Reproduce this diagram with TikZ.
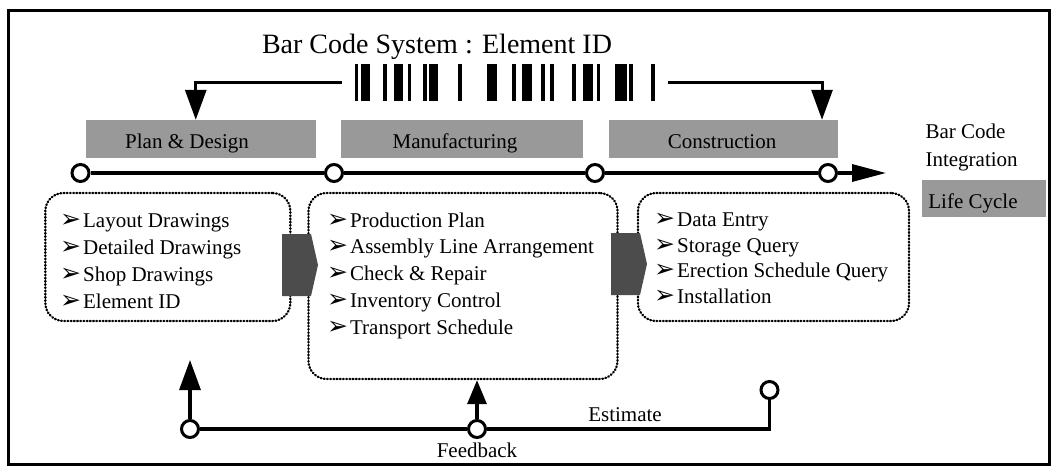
\documentclass[tikz,border=0pt]{standalone}
\usepackage{fontspec}
\setmainfont{Liberation Serif}
\newfontfamily\symfont{DejaVu Sans}
\usetikzlibrary{arrows.meta}

\newcommand\itembul{{\symfont\fontsize{25}{25}\selectfont ➢}\hspace{2pt}}

\tikzset{
  frame/.style  = {line width=3pt},
  line/.style   = {line width=3.2pt},
  flow/.style   = {line width=3pt, ->},
  stop/.style   = {circle, draw, fill=white, line width=3pt,
                   minimum size=17pt, inner sep=0pt},
  phase/.style  = {fill=black!40, minimum height=38pt, inner sep=0pt},
  stage/.style  = {draw, rounded corners=18pt, line width=2.3pt,
                   dash pattern=on 0.8pt off 2.4pt, line cap=round, inner sep=0pt},
  entry/.style  = {anchor=base west, inner sep=0pt},
  handoff/.style= {fill=black!70}
}

\begin{document}
\begin{tikzpicture}[x=1pt, y=-1pt, font=\fontsize{21}{25}\selectfont,
                    >={Triangle[length=30pt,width=21pt]}]
\useasboundingbox (0,0) rectangle (1057,476);
\draw[frame] (8,10.5) rectangle (1049,464);

\node[anchor=base, font=\fontsize{28}{32}\selectfont] (title) at (437,53.5)
  {Bar Code System : Element ID};

% bar code
\foreach \bx/\bw in {355/3,361/9,383/4,394/9,408/3,423/4,429/9,458/4,487/10,
                     512/4,522/10,541/4,550/4,572/4,583/10,597/3,615/12,629/4,651/4}
  \fill (\bx,64.5) rectangle ++(\bw,37);
\node[minimum width=326pt, minimum height=37pt, inner sep=0pt] (barcode) at (505,83) {};

% phases
\node[phase, minimum width=229.5pt] (design) at (200.75,139) {};
\node[phase, minimum width=242pt]   (make)   at (461.5,139)  {};
\node[phase, minimum width=229pt]   (build)  at (723,139)    {};
\node[phase, minimum width=124pt, minimum height=37pt] (life) at (984,198.5) {};
\node[anchor=base] (designlbl) at (187,148.5) {Plan \& Design};
\node[anchor=base] (makelbl)   at (455,148.5) {Manufacturing};
\node[anchor=base] (buildlbl)  at (722,148.5) {Construction};
\node[anchor=base] (lifelbl)   at (973,208)   {Life Cycle};
\node[anchor=base west] (bclbl)  at (922,139)   {Bar Code};
\node[anchor=base west] (intlbl) at (922,166.5) {Integration};

\draw[flow] (barcode.west) -| ([xshift=-5pt]design.north);
\draw[flow] (barcode.east) -| ([xshift=99pt]build.north);

% time line
\node[stop] (t1) at (80.5,173) {};
\node[stop] (t2) at (334,173)  {};
\node[stop] (t3) at (595,173)  {};
\node[stop] (t4) at (828,173)  {};
\coordinate (tend) at (886,173);
\draw[line] (t1) -- (t2) -- (t3) -- (t4);
\draw[line, -{Triangle[length=34pt,width=17pt]}] (t4) -- (tend);

% stage boxes
\node[stage, minimum width=245pt, minimum height=128pt] (designbox) at (167.85,257) {};
\node[stage, minimum width=309pt, minimum height=186pt] (makebox)   at (463,286)    {};
\node[stage, minimum width=271pt, minimum height=128pt] (buildbox)  at (773.5,257)  {};

\foreach \txt [count=\i] in {Layout Drawings, Detailed Drawings, Shop Drawings, Element ID}
  \node[entry] (design-\i) at (60,227+27*\i-27) {\itembul\txt};
\foreach \txt [count=\i] in {Production Plan, Assembly Line Arrangement, Check \& Repair,
                             Inventory Control, Transport Schedule}
  \node[entry] (make-\i) at (327,227+26.8*\i-26.8) {\itembul\txt};
\foreach \txt [count=\i] in {Data Entry, Storage Query, Erection Schedule Query, Installation}
  \node[entry] (build-\i) at (654,226.5+25.5*\i-25.5) {\itembul\txt};

\foreach \ax/\ay in {282/234, 611/233}
  \fill[handoff] (\ax,\ay) -- ++(29,0) -- ++(7,31) -- ++(-7,31) -- ++(-29,0) -- cycle;

% feedback loop
\node[stop] (fb1) at (190,429)   {};
\node[stop] (fb2) at (477,429)   {};
\node[stop] (fb3) at (769.5,390) {};
\coordinate (fbtip) at (190,360);
\draw[line] (fb1) -- (fb2) -- (fb3 |- fb2) -- (fb3);
\draw[line, ->] (fb1) -- (fbtip);
\draw[line, -{Triangle[length=24pt,width=19pt]}] (fb2) -- (fb2 |- makebox.south);
\node[anchor=base] (feedback) at (477,457) {Feedback};
\node[anchor=base] (estimate) at (625,421) {Estimate};
\end{tikzpicture}
\end{document}
